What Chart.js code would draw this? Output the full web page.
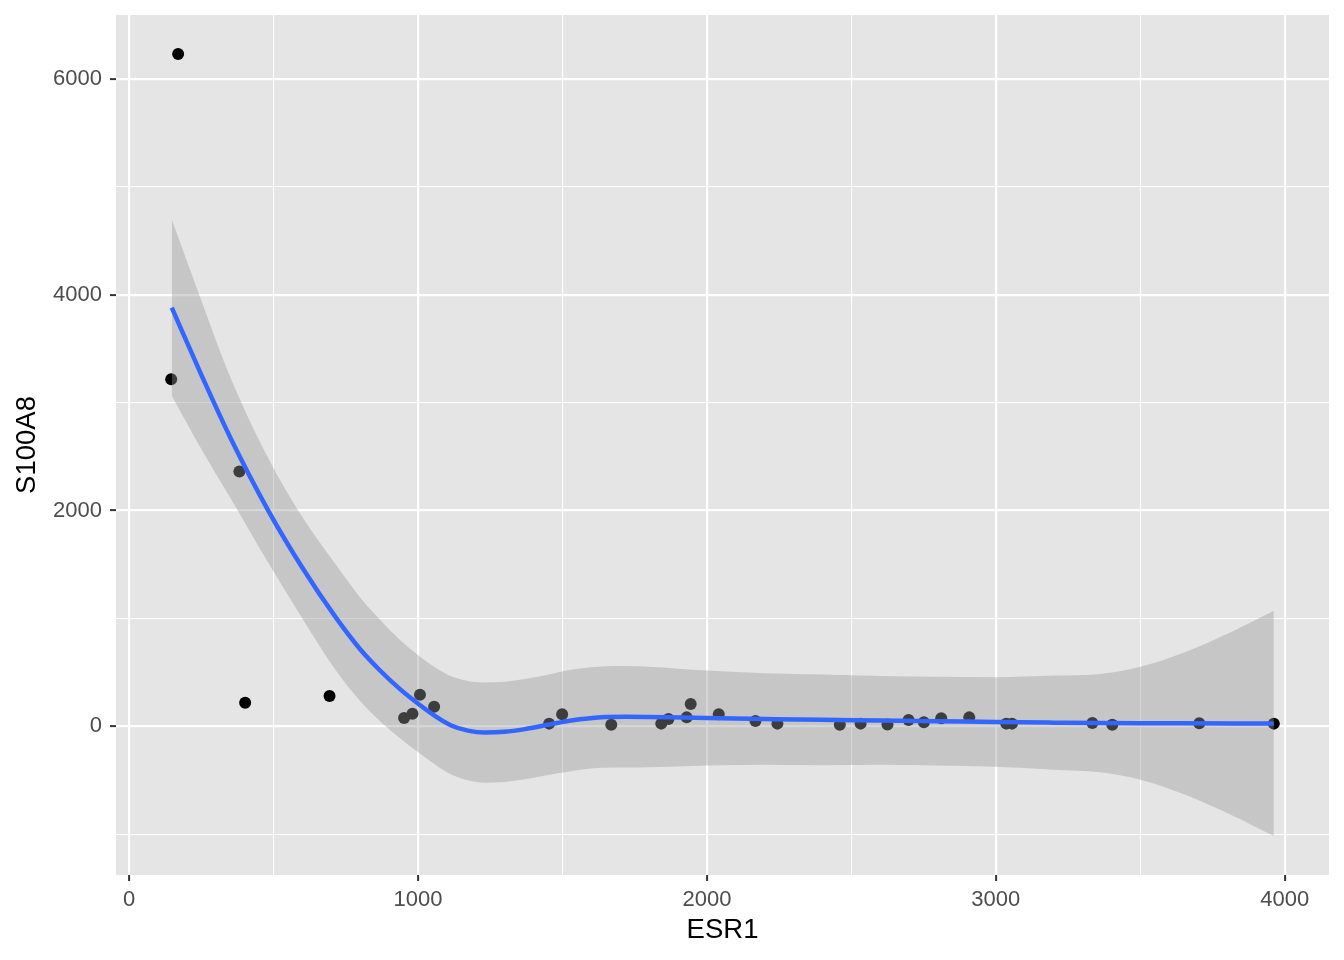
<!DOCTYPE html>
<html lang="en">
<head>
  <meta charset="UTF-8">
  <title>S100A8 vs ESR1</title>
  <script src="https://cdn.jsdelivr.net/npm/chart.js"></script>
  <style>
    body { margin: 0; background: #ffffff; font-family: "Liberation Sans", Arial, sans-serif; }
    #wrap { width: 1344px; height: 960px; }
  </style>
</head>
<body>
  <div id="wrap"><canvas id="chart" width="1344" height="960"></canvas></div>

  <script>
    // observed samples
    const esr1 = [170, 146, 382, 402, 694, 952, 981, 1007, 1056, 1454, 1499, 1669, 1842, 1867, 1930, 1944,
                  2041, 2168, 2244, 2460, 2532, 2625, 2698, 2751, 2811, 2908, 3036, 3056, 3334, 3403, 3704, 3962];
    const s100a8 = [6231, 3218, 2361, 219, 281, 77, 117, 293, 182, 25, 111, 15, 25, 68, 83, 207,
                    111, 49, 25, 15, 25, 18, 59, 37, 74, 83, 25, 25, 31, 15, 28, 25];

    // loess fit and its confidence band
    const fitX = [148, 250, 350, 482, 600, 718, 800, 868, 940, 1003, 1060, 1115, 1173, 1231, 1300, 1370, 1450,
                  1530, 1634, 1720, 1800, 2000, 2200, 2400, 2600, 2800, 3000, 3200, 3361, 3497, 3649, 3822, 3962];
    const fitY = [3880, 3260, 2680, 2000, 1470, 1000, 715, 520, 340, 205, 95, 8, -40, -58, -51, -26, 14,
                  54, 85, 89, 87, 77, 68, 60, 55, 48, 40, 34, 30, 29, 28, 27, 27];
    const fitUpper = [4697, 3950, 3240, 2485, 1940, 1490, 1195, 990, 795, 655, 545, 463, 420, 407, 414, 439, 479,
                      524, 555, 559, 553, 517, 492, 480, 467, 460, 455, 470, 486, 550, 683, 884, 1071];
    const fitLower = [3063, 2570, 2120, 1515, 1000, 510, 235, 50, -115, -245, -355, -447, -500, -523, -516, -491, -451,
                      -416, -385, -381, -379, -363, -356, -360, -357, -364, -375, -402, -426, -492, -627, -830, -1017];

    const xMajor = [0, 1000, 2000, 3000, 4000];
    const xMinor = [500, 1500, 2500, 3500];
    const yMajor = [0, 2000, 4000, 6000];
    const yMinor = [-1000, 1000, 3000, 5000];

    const pts = (xs, ys) => xs.map((x, i) => ({ x: x, y: ys[i] }));
    const FONT = '"Liberation Sans", Arial, sans-serif';

    const panelBg = {
      id: 'panelBg',
      beforeDraw(chart) {
        const a = chart.chartArea;
        const c = chart.ctx;
        c.save();
        c.fillStyle = '#e5e5e5';
        c.fillRect(a.left, a.top, a.right - a.left, a.bottom - a.top);
        c.restore();
      }
    };

    function axis(major, minor, min, max, size, titleText, tickPad, titlePad) {
      return {
        type: 'linear',
        min: min,
        max: max,
        afterBuildTicks: s => { s.ticks = major.concat(minor).sort((a, b) => a - b).map(v => ({ value: v })); },
        afterFit: s => {
          if (s.isHorizontal()) s.height = size; else s.width = size;
          // panel edges come from layout padding only
          s.paddingTop = 0; s.paddingBottom = 0; s.paddingLeft = 0; s.paddingRight = 0;
        },
        border: { display: false },
        grid: {
          color: '#ffffff',
          lineWidth: c => major.includes(c.tick.value) ? 2.2 : 1.1,
          tickColor: c => major.includes(c.tick.value) ? '#333333' : 'rgba(0,0,0,0)',
          tickWidth: 2,
          tickLength: 6
        },
        ticks: {
          autoSkip: false,
          maxRotation: 0,
          padding: tickPad,
          color: '#4d4d4d',
          font: { family: FONT, size: 22 },
          callback: v => major.includes(v) ? String(v) : ''
        },
        title: {
          display: true,
          text: titleText,
          color: '#000000',
          padding: titlePad,
          font: { family: FONT, size: 27.5 }
        }
      };
    }

    new Chart(document.getElementById('chart').getContext('2d'), {
      type: 'scatter',
      data: {
        datasets: [
          {
            data: pts(fitX, fitY),
            showLine: true,
            borderColor: '#3366ff',
            borderWidth: 4.5,
            pointRadius: 0,
            cubicInterpolationMode: 'monotone',
            order: 0
          },
          {
            data: pts(fitX, fitUpper),
            showLine: true,
            borderWidth: 0,
            borderColor: 'rgba(0,0,0,0)',
            pointRadius: 0,
            cubicInterpolationMode: 'monotone',
            fill: false,
            order: 1
          },
          {
            data: pts(fitX, fitLower),
            showLine: true,
            borderWidth: 0,
            borderColor: 'rgba(0,0,0,0)',
            backgroundColor: 'rgba(153,153,153,0.4)',
            pointRadius: 0,
            cubicInterpolationMode: 'monotone',
            fill: '-1',
            order: 1
          },
          {
            data: pts(esr1, s100a8),
            backgroundColor: '#000000',
            borderWidth: 0,
            pointRadius: 6,
            order: 3
          }
        ]
      },
      options: {
        responsive: false,
        animation: false,
        layout: { padding: { top: 15, right: 15, left: 0, bottom: 0 } },
        plugins: { legend: { display: false }, tooltip: { enabled: false } },
        scales: {
          x: axis(xMajor, xMinor, -45, 4153, 85, 'ESR1', 6, { top: 0, bottom: 13 }),
          y: axis(yMajor, yMinor, -1378, 6593, 116, 'S100A8', 8, { top: 11, bottom: 0 })
        }
      },
      plugins: [panelBg]
    });
  </script>
</body>
</html>
